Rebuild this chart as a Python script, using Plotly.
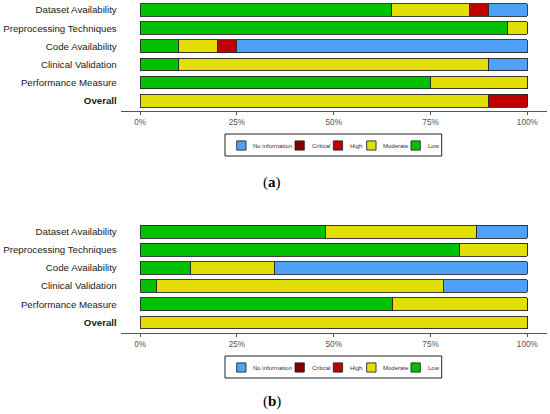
import plotly.graph_objects as go
from plotly.subplots import make_subplots

# ---------------------------------------------------------------- data ---------------------------------------------------------------

dominios = [
    "Dataset Availability",
    "Preprocessing Techniques",
    "Code Availability",
    "Clinical Validation",
    "Performance Measure",
    "Overall",
]
etiquetas_dominios = [
    "Dataset Availability",
    "Preprocessing Techniques",
    "Code Availability",
    "Clinical Validation",
    "Performance Measure",
    "<b>Overall</b>",
]

niveles = ["Low", "Moderate", "High", "Critical", "No information"]
colores = ["#02C100", "#E2DF07", "#BF0000", "#820000", "#4EA1F7"]

# panel (a), percent of studies
low_a = [65, 95, 10, 10, 75, 0]
moderate_a = [20, 5, 10, 80, 25, 90]
high_a = [5, 0, 5, 0, 0, 10]
critical_a = [0, 0, 0, 0, 0, 0]
noinfo_a = [10, 0, 75, 10, 0, 0]

# panel (b), percent of studies
low_b = [47.83, 82.61, 13.04, 4.35, 65.22, 0]
moderate_b = [39.13, 17.39, 21.74, 73.91, 34.78, 100]
high_b = [0, 0, 0, 0, 0, 0]
critical_b = [0, 0, 0, 0, 0, 0]
noinfo_b = [13.04, 0, 65.22, 21.74, 0, 0]

ticks_x = [0, 25, 50, 75, 100]
etiquetas_x = ["0%", "25%", "50%", "75%", "100%"]

ANCHO, ALTO = 550, 414

# ---------------------------------------------------------------- figure -------------------------------------------------------------


def agregar_panel(fig, series, fila):
    for nivel, color, valores in zip(niveles, colores, series):
        fig.add_trace(
            go.Bar(
                y=dominios,
                x=valores,
                name=nivel,
                orientation="h",
                width=0.7,
                marker=dict(color=color, line=dict(color="#2a2a2a", width=0.9)),
                showlegend=False,
                hoverinfo="skip",
            ),
            row=fila,
            col=1,
        )


def px_x(x):
    return x / ANCHO


def px_y(y):
    return 1 - y / ALTO


def leyenda_manual(fig, arriba):
    # caja de la leyenda estilo ggplot (orden: No information ... Low)
    fig.add_shape(
        type="rect",
        xref="paper",
        yref="paper",
        x0=px_x(225),
        x1=px_x(441.7),
        y0=px_y(arriba + 22),
        y1=px_y(arriba),
        line=dict(color="#222222", width=1),
        fillcolor="white",
    )
    posiciones = [236.7, 295, 333.3, 366.7, 411]
    centro = arriba + 11.5
    for izq, nivel, color in zip(posiciones, niveles[::-1], colores[::-1]):
        fig.add_shape(
            type="rect",
            xref="paper",
            yref="paper",
            x0=px_x(izq),
            x1=px_x(izq + 9.3),
            y0=px_y(centro + 4.6),
            y1=px_y(centro - 4.6),
            line=dict(color="#2a2a2a", width=0.9),
            fillcolor=color,
        )
        fig.add_annotation(
            text=nivel,
            x=px_x(izq + 14.5),
            y=px_y(centro),
            xref="paper",
            yref="paper",
            xanchor="left",
            yanchor="middle",
            showarrow=False,
            font=dict(family="Liberation Sans", size=6, color="#333333"),
        )


fig = make_subplots(rows=2, cols=1)

agregar_panel(fig, [low_a, moderate_a, high_a, critical_a, noinfo_a], 1)
agregar_panel(fig, [low_b, moderate_b, high_b, critical_b, noinfo_b], 2)

estilo_x = dict(
    range=[-5, 105],
    domain=[0.2195, 0.994],
    tickvals=ticks_x,
    ticktext=etiquetas_x,
    showgrid=False,
    zeroline=False,
    showline=True,
    linecolor="#555555",
    linewidth=1,
    ticks="outside",
    ticklen=3,
    tickwidth=1,
    tickcolor="#555555",
    automargin=False,
    tickfont=dict(family="Liberation Sans", size=8.2, color="#555555"),
)
estilo_y = dict(
    type="category",
    categoryorder="array",
    categoryarray=dominios,
    tickvals=dominios,
    ticktext=etiquetas_dominios,
    showgrid=False,
    zeroline=False,
    showline=False,
    ticks="",
    ticklabelstandoff=3,
    automargin=False,
    tickfont=dict(family="Liberation Sans", size=9.7, color="#1a1a1a"),
)

fig.update_xaxes(**estilo_x)
fig.update_yaxes(**estilo_y)
fig.update_yaxes(range=[5.55, -0.55], domain=[0.7326, 1.0], row=1, col=1)
fig.update_yaxes(range=[5.57, -0.55], domain=[0.1964, 0.4645], row=2, col=1)

leyenda_manual(fig, 134)
leyenda_manual(fig, 356)

for letra, y in [("a", 183), ("b", 401.5)]:
    fig.add_annotation(
        text=f"(<b>{letra}</b>)",
        x=0.494,
        y=px_y(y),
        xref="paper",
        yref="paper",
        yanchor="middle",
        showarrow=False,
        font=dict(family="Liberation Serif", size=15, color="black"),
    )

fig.update_layout(
    width=ANCHO,
    height=ALTO,
    margin=dict(l=0, r=0, t=0, b=0, autoexpand=False),
    barmode="stack",
    plot_bgcolor="white",
    paper_bgcolor="white",
    showlegend=False,
)

# sin el margen por defecto del <body>, la figura ocupa toda la ventana
fig.write_html(
    "out.html",
    config={"displayModeBar": False},
    post_script="document.body.style.margin = '0';",
)
